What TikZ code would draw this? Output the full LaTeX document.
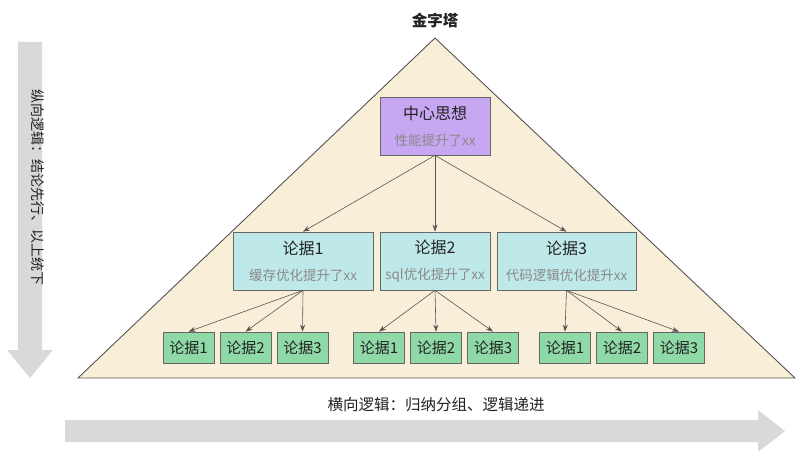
\documentclass[tikz,border=0pt]{standalone}
\usepackage{fontspec}
\setmainfont{Noto Sans CJK SC}
\usepackage{xcolor}
\usetikzlibrary{arrows.meta,positioning}
\definecolor{PYRfill}{HTML}{F9EFD9}
\definecolor{PYRline}{HTML}{555555}
\definecolor{PYRpurple}{HTML}{C7A6F2}
\definecolor{PYRteal}{HTML}{BFE8E8}
\definecolor{PYRgreen}{HTML}{8ED9A6}
\definecolor{PYRarrow}{HTML}{D9D9D9}
\definecolor{PYRtext}{HTML}{222222}
\definecolor{PYRsub}{HTML}{8A8A8A}
\newcommand{\subtxt}[1]{{\fontsize{13.5}{15}\selectfont\color{PYRsub}#1}}

\begin{document}
\begin{tikzpicture}[x=1pt,y=-1pt,
  box/.style={draw=PYRline!90,line width=0.7pt,inner sep=0pt,align=center,
    text=PYRtext,font=\fontsize{16}{18}\selectfont},
  topbox/.style={box,fill=PYRpurple,minimum width=110pt,minimum height=58pt},
  midbox/.style={box,fill=PYRteal,minimum height=58pt},
  leafbox/.style={box,fill=PYRgreen,minimum width=51pt,minimum height=31pt,
    font=\fontsize{15}{16}\selectfont},
  link/.style={draw=PYRline,line width=0.6pt,-{Stealth[length=7pt,width=5pt]}}]
  \useasboundingbox (0,0) rectangle (800,457);

  % Big arrows
  \fill[PYRarrow] (18,42) -- (42,42) -- (42,350) -- (53,350) -- (30,378)
    -- (7,350) -- (18,350) -- cycle;
  \fill[PYRarrow] (65,420) -- (758,420) -- (758,410) -- (785,431)
    -- (758,452) -- (758,442) -- (65,442) -- cycle;
  \node[rotate=-90,font=\fontsize{14}{16}\selectfont,text=PYRtext] (vlogic) at (38,188)
    {纵向逻辑：结论先行、以上统下};
  \node[font=\fontsize{15.5}{17}\selectfont,text=PYRtext] (hlogic) at (436,405)
    {横向逻辑：归纳分组、逻辑递进};

  % Pyramid
  \filldraw[fill=PYRfill,draw=PYRline,line width=0.9pt] (435,38) -- (795,378) -- (78,378) -- cycle;
  \node[font=\bfseries\fontsize{15.5}{18}\selectfont,text=PYRtext] (title) at (435,21) {金字塔};

  % Main idea
  \node[topbox] (idea) at (435,126) {中心思想\\[8pt]\subtxt{性能提升了xx}};

  % Arguments
  \node[midbox,minimum width=140pt] (argA) at (303,261) {论据1\\[8pt]\subtxt{缓存优化提升了xx}};
  \node[midbox,minimum width=110pt] (argB) at (435,261) {论据2\\[8pt]\subtxt{sql优化提升了xx}};
  \node[midbox,minimum width=139pt] (argC) at (566.5,261) {论据3\\[8pt]\subtxt{代码逻辑优化提升xx}};
  \foreach \a in {argA,argB,argC}
    \draw[link] (idea.south) -- (\a.north);

  % Supporting points
  \foreach \g/\x in {A/188.5,B/379,C/565}{
    \foreach \i in {1,2,3}{
      \node[leafbox] (leaf\g\i) at ({\x+(\i-1)*57},347.5) {论据\i};
      \draw[link] (arg\g.south) -- (leaf\g\i.north);
    }
  }
\end{tikzpicture}
\end{document}
